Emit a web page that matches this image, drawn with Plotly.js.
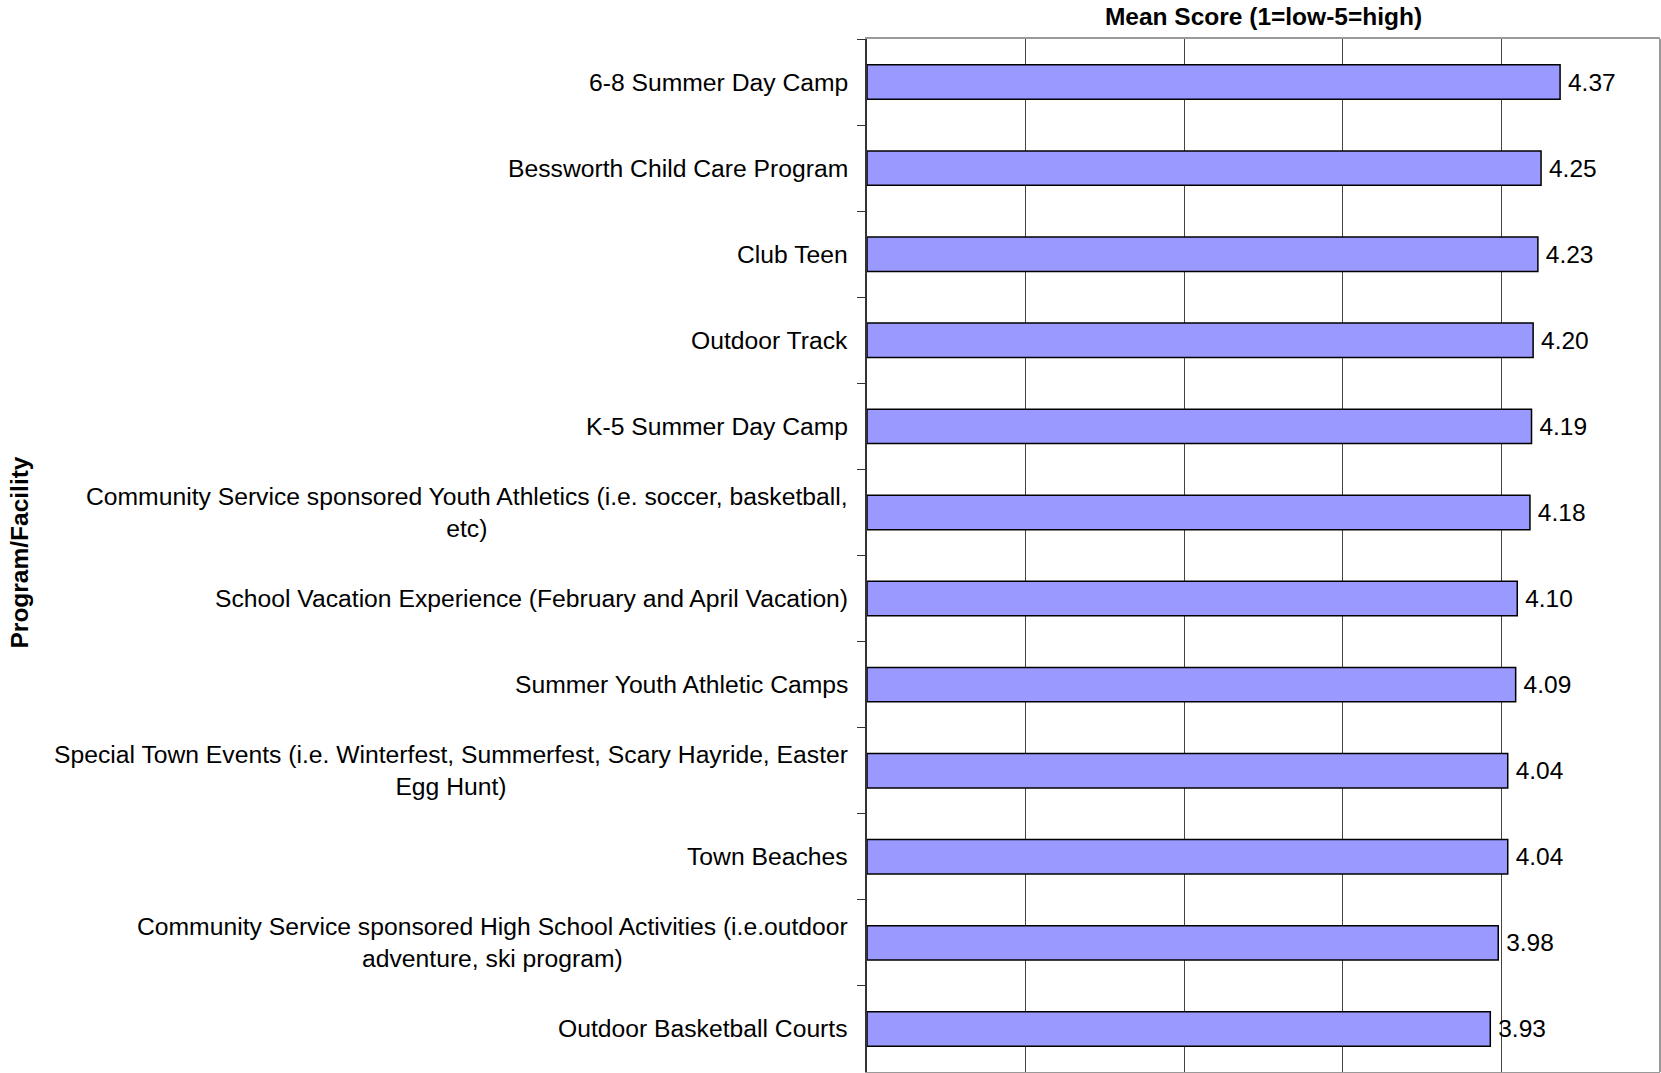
<!DOCTYPE html>
<html>
<head>
<meta charset="utf-8">
<script src="https://cdn.plot.ly/plotly-3.0.1.min.js"></script>
<style>html,body{margin:0;padding:0;background:#fff;}#chart{width:1661px;height:1073px;}</style>
</head>
<body>
<div id="chart"></div>
<script>
const categories = [
  "6-8 Summer Day Camp",
  "Bessworth Child Care Program",
  "Club Teen",
  "Outdoor Track",
  "K-5 Summer Day Camp",
  "Community Service sponsored Youth Athletics (i.e. soccer, basketball,<br>etc)",
  "School Vacation Experience (February and April Vacation)",
  "Summer Youth Athletic Camps",
  "Special Town Events (i.e. Winterfest, Summerfest, Scary Hayride, Easter<br>Egg Hunt)",
  "Town Beaches",
  "Community Service sponsored High School Activities (i.e.outdoor<br>adventure, ski program)",
  "Outdoor Basketball Courts"
];
const meanScores = [4.37, 4.25, 4.23, 4.20, 4.19, 4.18, 4.10, 4.09, 4.04, 4.04, 3.98, 3.93];
const chartTitle = "Mean Score (1=low-5=high)";
const yTitle = "Program/Facility";

const FONT = "Liberation Sans, Arial, Helvetica, sans-serif";

const trace = {
  type: "bar",
  orientation: "h",
  x: meanScores,
  y: categories,
  marker: {color: "#9999FF", line: {color: "#000000", width: 1.5}},
  texttemplate: "\u2009%{x:.2f}",
  textposition: "outside",
  textfont: {family: FONT, size: 24.5, color: "#000"},
  cliponaxis: false,
  hoverinfo: "x+y"
};

const annotations = categories.map(c => ({
  xref: "paper", yref: "y",
  x: 0, y: c,
  xanchor: "right", yanchor: "middle",
  xshift: -17,
  align: "center",
  text: c,
  showarrow: false,
  font: {family: FONT, size: 24.7, color: "#000"}
}));
annotations.push({
  xref: "paper", yref: "paper",
  x: 0, y: 0.5,
  xshift: -848,
  yshift: 3,
  xanchor: "center", yanchor: "middle",
  textangle: -90,
  text: yTitle,
  showarrow: false,
  font: {family: FONT, size: 24.5, color: "#000", weight: "bold"}
});

const layout = {
  width: 1661, height: 1073,
  margin: {l: 867, r: 1, t: 39, b: 1, pad: 0},
  paper_bgcolor: "#fff",
  plot_bgcolor: "#fff",
  showlegend: false,
  bargap: 0.6,
  title: {
    text: chartTitle,
    x: 0.5, xref: "paper", xanchor: "center",
    y: 1 - 16/1073, yref: "container", yanchor: "middle",
    font: {family: FONT, size: 24.5, color: "#000", weight: "bold"}
  },
  xaxis: {
    range: [0, 5],
    dtick: 1,
    showgrid: true, gridcolor: "#444", gridwidth: 1,
    showticklabels: false,
    ticks: "",
    zeroline: false,
    showline: true, mirror: true, linecolor: "#999", linewidth: 2
  },
  yaxis: {
    type: "category",
    autorange: "reversed",
    showticklabels: false,
    ticks: "outside", tickson: "boundaries", ticklen: 8, tickcolor: "#333", tickwidth: 1,
    showgrid: false,
    showline: true, linecolor: "#333", linewidth: 2
  },
  shapes: [{
    type: "line", xref: "paper", yref: "paper",
    x0: 1, x1: 1, y0: 0, y1: 1,
    line: {color: "#999", width: 2}
  }],
  annotations: annotations
};

Plotly.newPlot("chart", [trace], layout, {displayModeBar: false, staticPlot: true});
</script>
</body>
</html>
